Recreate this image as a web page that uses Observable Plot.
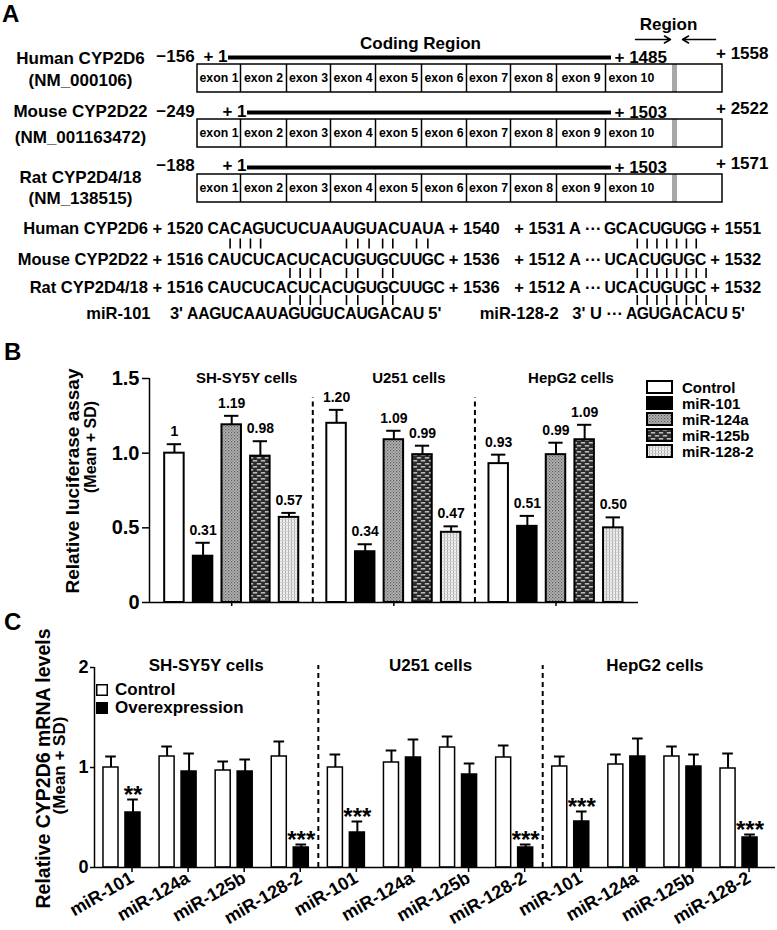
<!DOCTYPE html>
<html><head><meta charset="utf-8">
<script src="https://cdn.jsdelivr.net/npm/d3@7"></script>
<script src="https://cdn.jsdelivr.net/npm/@observablehq/plot@0.6"></script>
<style>
body{margin:0;background:#fff;}
#fig{position:relative;width:777px;height:930px;overflow:hidden;font-family:"Liberation Sans",Arial,Helvetica,sans-serif;font-weight:bold;color:#000;background:#fff;}
.plabel{position:absolute;font-size:24px;line-height:24px;font-weight:bold;}
.leg{position:absolute;font-weight:bold;}
.leg .row{display:flex;align-items:center;white-space:nowrap;}
.leg svg{display:block;flex:none;}
</style></head>
<body>
<svg width="0" height="0" style="position:absolute">
<defs>
<pattern id="p124a" width="3" height="3" patternUnits="userSpaceOnUse">
<rect width="3" height="3" fill="#b4b4b4"/><rect width="1.2" height="1.2" fill="#5a5a5a"/><rect x="1.5" y="1.5" width="1.2" height="1.2" fill="#6e6e6e"/>
</pattern>
<pattern id="p125b" width="8" height="6" patternUnits="userSpaceOnUse">
<rect width="8" height="6" fill="#2a2a2a"/><rect x="0.8" y="1" width="4.4" height="1.6" fill="#b8b8b8"/><rect x="4.8" y="4" width="3.2" height="1.6" fill="#b8b8b8"/><rect x="0" y="4" width="1.2" height="1.6" fill="#b8b8b8"/>
</pattern>
<pattern id="p128" width="3" height="3" patternUnits="userSpaceOnUse">
<rect width="3" height="3" fill="#ededed"/><rect width="1" height="3" fill="#b0b0b0"/><rect width="3" height="0.8" fill="#cfcfcf"/>
</pattern>
</defs></svg>
<div id="fig"></div>
<script>
// ================= DATA =================
// Panel A
const species = ["Human CYP2D6", "Mouse CYP2D22", "Rat CYP2D4/18"];
const accessions = ["(NM_000106)", "(NM_001163472)", "(NM_138515)"];
const utrStart = ["\u2212156", "\u2212249", "\u2212188"];
const cdsStart = ["+ 1", "+ 1", "+ 1"];
const cdsEnd = ["+ 1485", "+ 1503", "+ 1503"];
const mrnaEnd = ["+ 1558", "+ 2522", "+ 1571"];
const exonNames = ["exon 1","exon 2","exon 3","exon 4","exon 5","exon 6","exon 7","exon 8","exon 9","exon 10"];
const regionLabels = ["Coding Region", "Region"];
const site1From = ["+ 1520", "+ 1516", "+ 1516"];
const site1Seq = ["CACAGUCUCUAAUGUACUAUA", "CAUCUCACUCACUGUGCUUGC", "CAUCUCACUCACUGUGCUUGC"];
const site1To = ["+ 1540", "+ 1536", "+ 1536"];
const site2From = ["+ 1531 A \u00B7\u00B7\u00B7", "+ 1512 A \u00B7\u00B7\u00B7", "+ 1512 A \u00B7\u00B7\u00B7"];
const site2Seq = ["GCACUGUGG", "UCACUGUGC", "UCACUGUGC"];
const site2To = ["+ 1551", "+ 1532", "+ 1532"];
const mirNames = ["miR-101", "miR-128-2   3' U \u00B7\u00B7\u00B7"];
const mirEnds = ["3'", "5'"];
const mir101Seq = "AAGUCAAUAGUGUCAUGACAU";
const mir128Seq = "AGUGACACU";
// pairing marks (character columns) between successive rows
const site1Ticks = [[2.0,2.9,3.8,4.7,12.3,13.3,14.3,15.5,16.4,18.5,19.5],
                    [7.3,8.2,9.1,10.0,12.3,13.3,15.5,16.4],
                    [7.3,8.2,9.1,10.0,12.3,13.3,15.5,16.4]];
const site2Ticks = [[2.9,3.77,4.64,5.51,6.38,7.25,8.12],
                    [2.9,3.77,4.64,5.51,6.38,7.25,8.12,8.99],
                    [2.9,3.77,4.64,5.51,6.38,7.25,8.12,8.99]];

// Panel B
const lucSeries = ["Control", "miR-101", "miR-124a", "miR-125b", "miR-128-2"];
const lucCells = ["SH-SY5Y cells", "U251 cells", "HepG2 cells"];
const lucMean = [[1.00, 0.31, 1.19, 0.98, 0.57], [1.20, 0.34, 1.09, 0.99, 0.47], [0.93, 0.51, 0.99, 1.09, 0.50]];
const lucSD = [[0.06, 0.09, 0.06, 0.10, 0.03], [0.09, 0.05, 0.06, 0.06, 0.04], [0.06, 0.07, 0.08, 0.10, 0.07]];
const lucLabels = [["1", "0.31", "1.19", "0.98", "0.57"], ["1.20", "0.34", "1.09", "0.99", "0.47"], ["0.93", "0.51", "0.99", "1.09", "0.50"]];
const lucTicks = [0, 0.5, 1.0, 1.5];
const lucYTitle = ["Relative luciferase assay", "(Mean + SD)"];

// Panel C
const mirnas = ["miR-101", "miR-124a", "miR-125b", "miR-128-2"];
const cellLines = ["SH-SY5Y cells", "U251 cells", "HepG2 cells"];
const mrnaSeries = ["Control", "Overexpression"];
const mrnaCtrl   = [1.00, 1.11, 0.97, 1.11, 1.00, 1.05, 1.20, 1.10, 1.01, 1.03, 1.11, 0.99];
const mrnaCtrlSD = [0.11, 0.10, 0.09, 0.15, 0.13, 0.12, 0.11, 0.12, 0.10, 0.10, 0.10, 0.15];
const mrnaOver   = [0.55, 0.96, 0.96, 0.20, 0.35, 1.10, 0.93, 0.20, 0.46, 1.11, 1.01, 0.30];
const mrnaOverSD = [0.13, 0.18, 0.12, 0.03, 0.11, 0.18, 0.11, 0.03, 0.10, 0.18, 0.12, 0.03];
const mrnaSig    = ["**", "", "", "***", "***", "", "", "***", "***", "", "", "***"];
const mrnaTicks = [0, 1, 2];
const mrnaYTitle = ["Relative CYP2D6 mRNA levels", "(Mean + SD)"];
const panelLetters = ["A", "B", "C"];

// ================= STYLE / LAYOUT =================
const FONT = '"Liberation Sans", Arial, Helvetica, sans-serif';
const baseStyle = {fontFamily: FONT, fontWeight: "bold", fontSize: "16px", color: "#000", background: "transparent", overflow: "visible"};
const lucFill = ["#fff", "#000", "url(#p124a)", "url(#p125b)", "url(#p128)"];
const fig = document.getElementById("fig");
function place(node, top) { node.style.position = "absolute"; node.style.left = "0px"; node.style.top = top + "px"; fig.appendChild(node); }
const c = v => () => v;

// ---------- Panel A (schematic, pixel-unit scales) ----------
const A_H = 326;
const G = {
  lineY: [57, 112, 167], nameY: [58, 111, 177], accY: [80, 137, 198],
  utrY: [56, 111, 165], endY: [53, 108, 163],
  nameX: 80, utrX: 175, lineX1: [228, 247, 247], lineX2: 611, cdsEndX: 614, endX: 768,
  boxX1: 197, boxX2: 722, boxD1: 7, boxD2: 35,
  edges: [197, 240, 286, 330, 375, 421, 466, 510, 556, 605, 722], grey: [672, 677],
  seqY: [228, 259, 287], mirY: 313, tickMid: [243.5, 273, 300], tickLen: 10,
  s1X: 207, s2X: 604, cw: 11.3, m1X: 186.5, m2X: 625.5, lab: 16.5, seqF: 15.7
};
const rows = species.map((s, i) => i);
const divs = rows.flatMap(i => G.edges.slice(1, -1).map(x => ({i, x})));
const exLab = rows.flatMap(i => exonNames.map((name, k) => ({i, k, name})));
const ch1 = rows.flatMap(i => [...site1Seq[i]].map((ch, j) => ({i, j, ch})));
const ch2 = rows.flatMap(i => [...site2Seq[i]].map((ch, j) => ({i, j, ch})));
const m1 = [...mir101Seq].map((ch, j) => ({j, ch}));
const m2 = [...mir128Seq].map((ch, j) => ({j, ch}));
const t1 = site1Ticks.flatMap((a, r) => a.map(t => ({r, t})));
const t2 = site2Ticks.flatMap((a, r) => a.map(t => ({r, t})));

const panelA = Plot.plot({
  width: 777, height: A_H, margin: 0,
  x: {domain: [0, 777], range: [0, 777], axis: null},
  y: {domain: [0, A_H], range: [0, A_H], axis: null},
  style: baseStyle,
  marks: [
    Plot.text(rows, {x: c(G.nameX), y: i => G.nameY[i], text: i => species[i], fontSize: 17}),
    Plot.text(rows, {x: c(G.nameX), y: i => G.accY[i], text: i => accessions[i], fontSize: 17}),
    Plot.text(rows, {x: c(G.utrX), y: i => G.utrY[i], text: i => utrStart[i], fontSize: 17}),
    Plot.text(rows, {x: i => G.lineX1[i] - 1, y: i => G.utrY[i], text: i => cdsStart[i], textAnchor: "end", fontSize: 17}),
    Plot.ruleY(rows, {y: i => G.lineY[i], x1: i => G.lineX1[i], x2: c(G.lineX2), strokeWidth: 4}),
    Plot.text(rows, {x: c(G.cdsEndX), y: i => G.lineY[i], text: i => cdsEnd[i], textAnchor: "start", fontSize: 17}),
    Plot.text(rows, {x: c(G.endX), y: i => G.endY[i], text: i => mrnaEnd[i], textAnchor: "end", fontSize: 17}),
    Plot.rect(rows, {x1: c(G.grey[0]), x2: c(G.grey[1]), y1: i => G.lineY[i] + G.boxD1, y2: i => G.lineY[i] + G.boxD2, fill: "#a8a8a8"}),
    Plot.rect(rows, {x1: c(G.boxX1), x2: c(G.boxX2), y1: i => G.lineY[i] + G.boxD1, y2: i => G.lineY[i] + G.boxD2, fill: "none", stroke: "#000", strokeWidth: 1.5}),
    Plot.ruleX(divs, {x: "x", y1: d => G.lineY[d.i] + G.boxD1, y2: d => G.lineY[d.i] + G.boxD2, strokeWidth: 1.5}),
    Plot.text(exLab.filter(d => d.k < 9), {x: d => (G.edges[d.k] + G.edges[d.k + 1]) / 2, y: d => G.lineY[d.i] + 21, text: "name", fontSize: 12.3}),
    Plot.text(exLab.filter(d => d.k === 9), {x: d => G.edges[9] + 3, y: d => G.lineY[d.i] + 21, text: "name", textAnchor: "start", fontSize: 12.3}),
    Plot.text([regionLabels[0]], {x: c(420), y: c(43), text: d => d, fontSize: 17}),
    Plot.text([regionLabels[1]], {x: c(668), y: c(24), text: d => d, fontSize: 17}),
    Plot.arrow([0, 1], {x1: d => [635, 715][d], x2: d => [670, 682][d], y1: c(39), y2: c(39), strokeWidth: 1.5, headLength: 7}),
    // sequence alignments
    Plot.text(rows, {x: c(G.s1X - 4), y: i => G.seqY[i], text: i => `${species[i]} ${site1From[i]}`, textAnchor: "end", fontSize: G.lab}),
    Plot.text(ch1, {x: d => G.s1X + G.cw * (d.j + 0.5), y: d => G.seqY[d.i], text: "ch", fontSize: G.seqF}),
    Plot.text(rows, {x: c(G.s1X + G.cw * 21 + 4), y: i => G.seqY[i], text: i => site1To[i], textAnchor: "start", fontSize: G.lab}),
    Plot.text(rows, {x: c(G.s2X - 3), y: i => G.seqY[i], text: i => site2From[i], textAnchor: "end", fontSize: G.lab}),
    Plot.text(ch2, {x: d => G.s2X + G.cw * (d.j + 0.5), y: d => G.seqY[d.i], text: "ch", fontSize: G.seqF}),
    Plot.text(rows, {x: c(G.s2X + G.cw * 9 + 4), y: i => G.seqY[i], text: i => site2To[i], textAnchor: "start", fontSize: G.lab}),
    Plot.text([mirNames[0]], {x: c(150), y: c(G.mirY), text: d => d, textAnchor: "end", fontSize: G.lab}),
    Plot.text([mirEnds[0]], {x: c(G.m1X - 4), y: c(G.mirY), text: d => d, textAnchor: "end", fontSize: G.lab}),
    Plot.text(m1, {x: d => G.m1X + G.cw * (d.j + 0.5), y: c(G.mirY), text: "ch", fontSize: G.seqF}),
    Plot.text([mirEnds[1]], {x: c(G.m1X + G.cw * 21 + 4), y: c(G.mirY), text: d => d, textAnchor: "start", fontSize: G.lab}),
    Plot.text([mirNames[1]], {x: c(G.m2X - 3), y: c(G.mirY), text: d => d, textAnchor: "end", fontSize: G.lab}),
    Plot.text(m2, {x: d => G.m2X + G.cw * (d.j + 0.5), y: c(G.mirY), text: "ch", fontSize: G.seqF}),
    Plot.text([mirEnds[1]], {x: c(G.m2X + G.cw * 9 + 4), y: c(G.mirY), text: d => d, textAnchor: "start", fontSize: G.lab}),
    Plot.ruleX(t1, {x: d => G.s1X + G.cw * d.t, y1: d => G.tickMid[d.r] - G.tickLen / 2, y2: d => G.tickMid[d.r] + G.tickLen / 2, strokeWidth: 1.6}),
    Plot.ruleX(t2, {x: d => G.s2X + G.cw * d.t, y1: d => G.tickMid[d.r] - G.tickLen / 2, y2: d => G.tickMid[d.r] + G.tickLen / 2, strokeWidth: 1.6})
  ]
});
place(panelA, 0);

// ---------- Panel B ----------
const GSTEP = 5.66, BAR_HALF = 0.34, CAP_HALF = 0.25;
const XB = [-0.87, 16.2];
const lucData = lucCells.flatMap((cell, g) => lucSeries.map((series, i) => ({g, i, cell, series, mean: lucMean[g][i], sd: lucSD[g][i], label: lucLabels[g][i]})));
const posB = d => d.g * GSTEP + d.i;
const panelB = Plot.plot({
  width: 777, height: 280, marginLeft: 149, marginRight: 139, marginTop: 48, marginBottom: 8,
  x: {domain: XB},
  y: {domain: [0, 1.5]},
  style: baseStyle,
  marks: [
    ...lucSeries.map((s, i) => Plot.rect(lucData.filter(d => d.i === i), {x1: d => posB(d) - BAR_HALF, x2: d => posB(d) + BAR_HALF, y1: c(0), y2: "mean", fill: lucFill[i], stroke: "#000", strokeWidth: 2})),
    Plot.ruleX(lucData, {x: posB, y1: "mean", y2: d => d.mean + d.sd, strokeWidth: 2}),
    Plot.ruleY(lucData, {y: d => d.mean + d.sd, x1: d => posB(d) - CAP_HALF, x2: d => posB(d) + CAP_HALF, strokeWidth: 2}),
    Plot.text(lucData, {x: posB, y: d => d.mean + d.sd, text: "label", dy: -12.5, fontSize: 14}),
    Plot.ruleX(lucCells.slice(1), {x: (d, g) => (g + 1) * GSTEP - (GSTEP - 4) / 2, y1: c(0), y2: c(1.37), strokeWidth: 2, strokeDasharray: "5,3.5"}),
    Plot.text(lucCells, {x: (d, g) => g * GSTEP + 2, y: c(1.5), text: d => d, dx: 15, fontSize: 15}),
    Plot.ruleY([0], {strokeWidth: 1.5}),
    Plot.ruleX([XB[0]], {y1: c(0), y2: c(1.5), strokeWidth: 1.5}),
    Plot.axisY({ticks: lucTicks, tickFormat: d => d === 0 ? "0" : d.toFixed(1), tickSize: 7, tickPadding: 3, fontSize: 20, strokeWidth: 1.5, label: null}),
    Plot.axisX({ticks: lucCells.map((d, g) => g * GSTEP + 2), tickFormat: () => "", tickSize: 4, strokeWidth: 1.5, label: null}),
    Plot.text([lucYTitle[0]], {x: c(XB[0]), y: c(0.75), rotate: -90, dx: -77, dy: -9.5, text: d => d, fontSize: 19}),
    Plot.text([lucYTitle[1]], {x: c(XB[0]), y: c(0.75), rotate: -90, dx: -59, dy: -43.5, text: d => d, fontSize: 16})
  ]
});
place(panelB, 330);

// legend B
{
  const leg = document.createElement("div");
  leg.className = "leg";
  leg.style.left = "646px"; leg.style.top = "379px"; leg.style.fontSize = "15px";
  lucSeries.forEach((s, i) => {
    const row = document.createElement("div"); row.className = "row"; row.style.height = "16px";
    row.innerHTML = `<svg width="28" height="14"><rect x="1" y="1" width="25" height="12" fill="${lucFill[i]}" stroke="#000" stroke-width="2"/></svg><span style="margin-left:8px">${s}</span>`;
    leg.appendChild(row);
  });
  fig.appendChild(leg);
}

// ---------- Panel C ----------
const XC = [-0.49, 11.65];
const C_OFF = 0.196, C_HALF = 0.134, C_CAP = 0.095;
const barsC = mrnaCtrl.flatMap((v, k) => [
  {k, type: 0, pos: k - C_OFF, v, sd: mrnaCtrlSD[k], sig: ""},
  {k, type: 1, pos: k + C_OFF, v: mrnaOver[k], sd: mrnaOverSD[k], sig: mrnaSig[k]}
]);
const panelC = Plot.plot({
  width: 777, height: 320, marginLeft: 94, marginRight: 2, marginTop: 57, marginBottom: 63,
  x: {domain: XC},
  y: {domain: [0, 2]},
  style: baseStyle,
  marks: [
    Plot.rect(barsC.filter(d => d.type === 0), {x1: d => d.pos - C_HALF, x2: d => d.pos + C_HALF, y1: c(0), y2: "v", fill: "#fff", stroke: "#000", strokeWidth: 1.5}),
    Plot.rect(barsC.filter(d => d.type === 1), {x1: d => d.pos - C_HALF, x2: d => d.pos + C_HALF, y1: c(0), y2: "v", fill: "#000", stroke: "#000", strokeWidth: 1.5}),
    Plot.ruleX(barsC, {x: "pos", y1: "v", y2: d => d.v + d.sd, strokeWidth: 2}),
    Plot.ruleY(barsC, {y: d => d.v + d.sd, x1: d => d.pos - C_CAP, x2: d => d.pos + C_CAP, strokeWidth: 2}),
    Plot.text(barsC.filter(d => d.sig), {x: "pos", y: d => d.v + d.sd, text: "sig", dy: -4.5, fontSize: 24}),
    Plot.ruleX(cellLines.slice(1), {x: (d, g) => 4 * (g + 1) - 0.5, y1: c(0), y2: c(2.02), strokeWidth: 2, strokeDasharray: "5,4"}),
    Plot.text(cellLines, {x: (d, g) => 4 * g + 1.5, y: c(2), text: d => d, dy: -2, fontSize: 17}),
    Plot.ruleY([0], {strokeWidth: 1.5}),
    Plot.ruleX([XC[0]], {y1: c(0), y2: c(2), strokeWidth: 1.5}),
    Plot.axisY({ticks: mrnaTicks, tickFormat: d => String(d), tickSize: 4, tickPadding: 2, fontSize: 18, strokeWidth: 1.5, label: null}),
    Plot.axisX({ticks: mrnaCtrl.map((v, k) => k), tickFormat: k => mirnas[k % 4], tickRotate: -30, tickSize: 5, tickPadding: 4, dx: 10, fontSize: 18, strokeWidth: 1.5, label: null}),
    Plot.text([mrnaYTitle[0]], {x: c(XC[0]), y: c(1), rotate: -90, dx: -51, dy: 1, text: d => d, fontSize: 19.5}),
    Plot.text([mrnaYTitle[1]], {x: c(XC[0]), y: c(1), rotate: -90, dx: -35, dy: -2, text: d => d, fontSize: 17})
  ]
});
place(panelC, 610);

// legend C
{
  const leg = document.createElement("div");
  leg.className = "leg";
  leg.style.left = "96px"; leg.style.top = "681px"; leg.style.fontSize = "17px";
  mrnaSeries.forEach((s, i) => {
    const row = document.createElement("div"); row.className = "row"; row.style.height = "18px";
    row.innerHTML = `<svg width="12" height="12"><rect x="0.75" y="0.75" width="10.5" height="10.5" fill="${i ? "#000" : "#fff"}" stroke="#000" stroke-width="1.5"/></svg><span style="margin-left:7px">${s}</span>`;
    leg.appendChild(row);
  });
  fig.appendChild(leg);
}

// panel letters
[[2, 2], [340, 4], [610, 4]].forEach(([top, left], i) => {
  const d = document.createElement("div");
  d.className = "plabel"; d.textContent = panelLetters[i];
  d.style.top = top + "px"; d.style.left = left + "px";
  fig.appendChild(d);
});
</script>
</body></html>
